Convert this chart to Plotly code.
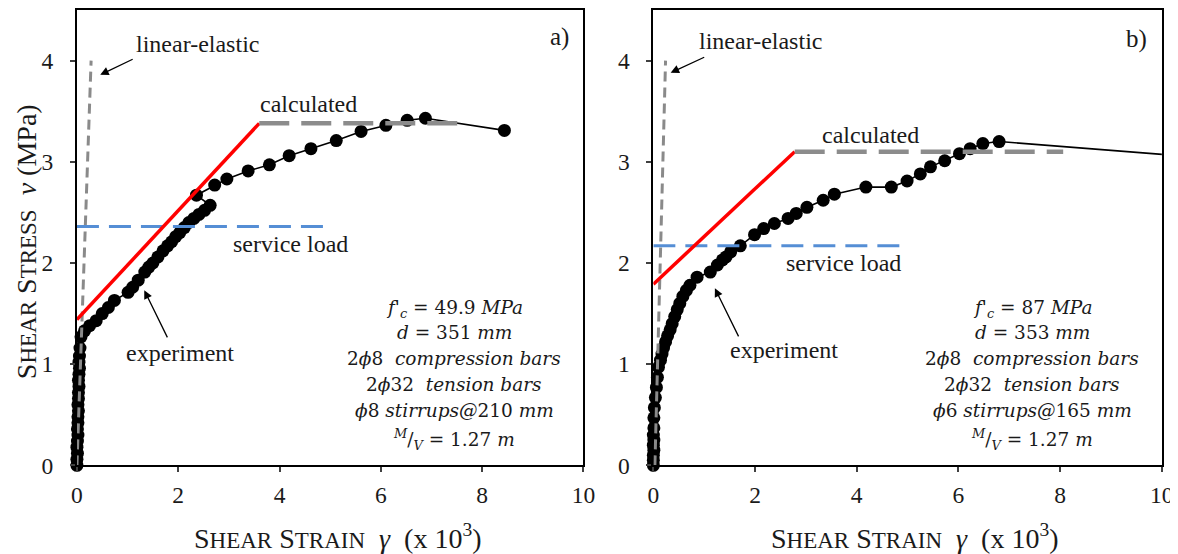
import plotly.graph_objects as go

W, H = 1200, 554          # figure size (a little wider so the last tick label is not cut)
FONT = "Liberation Serif"
MATH = "DejaVu Serif"
# observed placement of the figure in the photographed page
SX, OX = 0.986, 13.0
SY, OY = 0.980, 7.0

# ---------------- data (strain x10^3, stress MPa) ----------------
exp_a_x = [0.00, 0.00, 0.01, 0.00, 0.01, 0.02, 0.01, 0.02, 0.02, 0.03, 0.02, 0.03, 0.03, 0.04,
           0.03, 0.04, 0.05, 0.04, 0.05, 0.06, 0.08, 0.15, 0.25, 0.38, 0.50, 0.62, 0.74, 1.01,
           1.10, 1.21, 1.34, 1.42, 1.50, 1.60, 1.70, 1.79, 1.87, 1.95, 2.03, 2.12, 2.21, 2.31,
           2.41, 2.52, 2.63, 2.36, 2.72, 2.96, 3.38, 3.80, 4.19, 4.62, 5.12, 5.61, 6.10, 6.52,
           6.88, 8.44]
exp_a_y = [0.00, 0.06, 0.12, 0.18, 0.24, 0.30, 0.36, 0.42, 0.48, 0.54, 0.60, 0.66, 0.72, 0.78,
           0.84, 0.90, 0.96, 1.02, 1.08, 1.16, 1.27, 1.33, 1.38, 1.43, 1.50, 1.56, 1.63, 1.71,
           1.76, 1.83, 1.91, 1.96, 2.00, 2.06, 2.12, 2.17, 2.21, 2.26, 2.30, 2.35, 2.40, 2.44,
           2.48, 2.52, 2.57, 2.67, 2.77, 2.83, 2.91, 2.97, 3.06, 3.13, 3.21, 3.30, 3.36, 3.41,
           3.43, 3.31]

exp_b_x = [0.00, 0.00, 0.00, 0.01, 0.00, 0.01, 0.00, 0.01, 0.01, 0.02, 0.04, 0.06, 0.08, 0.10,
           0.14, 0.17, 0.20, 0.24, 0.28, 0.33, 0.37, 0.42, 0.47, 0.52, 0.58, 0.65, 0.72, 0.86,
           1.12, 1.26, 1.36, 1.43, 1.52, 1.71, 1.99, 2.17, 2.38, 2.65, 2.81, 3.02, 3.34, 3.56,
           4.18, 4.68, 4.99, 5.25, 5.45, 5.73, 6.02, 6.23, 6.48, 6.80, 10.60]
exp_b_y = [0.00, 0.05, 0.10, 0.15, 0.20, 0.25, 0.30, 0.37, 0.47, 0.57, 0.67, 0.77, 0.87, 0.97,
           1.04, 1.10, 1.16, 1.22, 1.28, 1.34, 1.40, 1.47, 1.54, 1.60, 1.67, 1.73, 1.78, 1.86,
           1.91, 1.98, 2.03, 2.06, 2.11, 2.17, 2.28, 2.34, 2.39, 2.44, 2.49, 2.55, 2.62, 2.68,
           2.75, 2.75, 2.81, 2.88, 2.95, 3.01, 3.08, 3.13, 3.18, 3.20, 3.05]

lin_a_x, lin_a_y = [0.00, 0.28], [0.00, 4.00]
lin_b_x, lin_b_y = [0.03, 0.24], [0.00, 4.00]
red_a_x, red_a_y = [0.00, 3.60], [1.44, 3.38]
red_b_x, red_b_y = [0.00, 2.78], [1.79, 3.10]
calc_a_x, calc_a_y = [3.60, 7.57], [3.38, 3.38]
calc_b_x, calc_b_y = [2.78, 8.06], [3.10, 3.10]
serv_a_x, serv_a_y = [0.00, 5.00], [2.36, 2.36]
serv_b_x, serv_b_y = [0.00, 5.00], [2.17, 2.17]

X_MAX, Y_MAX = 10.0, 4.5
x_ticks = [0, 2, 4, 6, 8, 10]
y_ticks = [0, 1, 2, 3, 4]

lines_a = ["<i>f'</i><sub><i>c</i></sub> = 49.9 <i>MPa</i>", "<i>d</i> = 351 <i>mm</i>",
           "2<i>ϕ</i>8  <i>compression bars</i>", "2<i>ϕ</i>32  <i>tension bars</i>",
           "<i>ϕ</i>8 <i>stirrups@</i>210 <i>mm</i>",
           "<sup><i>M</i></sup>/<sub><i>V</i></sub> = 1.27 <i>m</i>"]
lines_b = ["<i>f'</i><sub><i>c</i></sub> = 87 <i>MPa</i>", "<i>d</i> = 353 <i>mm</i>",
           "2<i>ϕ</i>8  <i>compression bars</i>", "2<i>ϕ</i>32  <i>tension bars</i>",
           "<i>ϕ</i>6 <i>stirrups@</i>165 <i>mm</i>",
           "<sup><i>M</i></sup>/<sub><i>V</i></sub> = 1.27 <i>m</i>"]
lines_ypix = [309, 333, 359, 385, 411, 440]   # reference pixel rows of the text lines


def fx(xp):  # reference pixel -> paper fraction
    return ((xp - OX) / SX) / W


def fy(yp):
    return 1 - ((yp - OY) / SY) / H


# ---------------- figure ----------------
fig = go.Figure()


def add_panel(xa, ya, ex, ey, lx, ly, rx, ry, cx, cy, sx, sy):
    fig.add_trace(go.Scatter(x=ex, y=ey, mode="lines", xaxis=xa, yaxis=ya,
                             line=dict(color="black", width=1.6), showlegend=False, hoverinfo="skip"))
    mx = [x for x in ex if x <= X_MAX]
    my = [y for x, y in zip(ex, ey) if x <= X_MAX]
    fig.add_trace(go.Scatter(x=mx, y=my, mode="markers", xaxis=xa, yaxis=ya, cliponaxis=False,
                             marker=dict(color="black", size=13), showlegend=False))
    fig.add_trace(go.Scatter(x=lx, y=ly, mode="lines", xaxis=xa, yaxis=ya, cliponaxis=False,
                             line=dict(color="#8a8a8a", width=3, dash="10px,6px"), showlegend=False))
    fig.add_trace(go.Scatter(x=sx, y=sy, mode="lines", xaxis=xa, yaxis=ya,
                             line=dict(color="#558ED5", width=3, dash="22px,10px"), showlegend=False))
    fig.add_trace(go.Scatter(x=rx, y=ry, mode="lines", xaxis=xa, yaxis=ya,
                             line=dict(color="#FF0000", width=3.5), showlegend=False))
    fig.add_trace(go.Scatter(x=cx, y=cy, mode="lines", xaxis=xa, yaxis=ya,
                             line=dict(color="#8c8c8c", width=4.5, dash="30px,12px"), showlegend=False))


add_panel("x", "y", exp_a_x, exp_a_y, lin_a_x, lin_a_y, red_a_x, red_a_y,
          calc_a_x, calc_a_y, serv_a_x, serv_a_y)
add_panel("x2", "y2", exp_b_x, exp_b_y, lin_b_x, lin_b_y, red_b_x, red_b_y,
          calc_b_x, calc_b_y, serv_b_x, serv_b_y)

ydom = [fy(466), min(1.0, fy(9))]
axis_common = dict(showgrid=False, zeroline=False, showline=True, mirror=True,
                   linecolor="black", linewidth=2, ticks="outside", ticklen=5,
                   tickwidth=1.5, tickcolor="#404040",
                   tickfont=dict(family=FONT, size=23.5, color="#1a1a1a"))
fig.update_layout(
    width=W, height=H, margin=dict(l=0, r=0, t=0, b=0),
    paper_bgcolor="white", plot_bgcolor="white", showlegend=False,
    xaxis=dict(domain=[fx(76), fx(583)], range=[0, X_MAX], tickvals=x_ticks,
               anchor="y", ticklabelstandoff=2, **axis_common),
    yaxis=dict(domain=ydom, range=[0, Y_MAX], tickvals=y_ticks, anchor="x",
               ticklabelstandoff=12, **axis_common),
    xaxis2=dict(domain=[fx(653), fx(1162)], range=[0, X_MAX], tickvals=x_ticks,
                anchor="y2", ticklabelstandoff=2, **axis_common),
    yaxis2=dict(domain=ydom, range=[0, Y_MAX], tickvals=y_ticks, anchor="x2",
                ticklabelstandoff=12, **axis_common),
)

annots = []


def label(xr, yr, x, y, text, size=24, family=FONT):
    annots.append(dict(xref=xr, yref=yr, x=x, y=y, text=text, showarrow=False,
                       font=dict(family=family, size=size, color="#1a1a1a"),
                       xanchor="center", yanchor="middle"))


def arrow(xr, yr, x0, y0, x1, y1):
    annots.append(dict(xref=xr, yref=yr, axref=xr, ayref=yr, x=x1, y=y1, ax=x0, ay=y0,
                       text="", showarrow=True, arrowhead=2, arrowsize=1.3,
                       arrowwidth=1.3, arrowcolor="black"))


# panel a
label("x", "y", 2.39, 4.16, "linear-elastic")
arrow("x", "y", 1.13, 4.02, 0.46, 3.86)
label("x", "y", 4.57, 3.57, "calculated")
label("x", "y", 4.22, 2.19, "service load")
label("x", "y", 2.03, 1.11, "experiment")
arrow("x", "y", 1.80, 1.25, 1.33, 1.73)
label("x", "y", 9.52, 4.23, "a)", 25)
# panel b
label("x2", "y2", 2.10, 4.19, "linear-elastic")
arrow("x2", "y2", 1.03, 4.04, 0.34, 3.88)
label("x2", "y2", 4.28, 3.26, "calculated")
label("x2", "y2", 3.74, 2.00, "service load")
label("x2", "y2", 2.57, 1.14, "experiment")
arrow("x2", "y2", 1.69, 1.26, 1.21, 1.75)
label("x2", "y2", 9.50, 4.21, "b)", 25)

# parameter blocks, one annotation per line
for xr, yr, lines in [("x", "y", lines_a), ("x2", "y2", lines_b)]:
    for t, yp in zip(lines, lines_ypix):
        annots.append(dict(xref=xr, yref="paper", x=7.45, y=fy(yp), text=t, showarrow=False,
                           xanchor="center", yanchor="middle",
                           font=dict(family=MATH, size=18.5, color="#1a1a1a")))

sc = "font-size:23px"
ytitle = (f"S<span style='{sc}'>HEAR</span> S<span style='{sc}'>TRESS</span>"
          "  <i>ν</i> (MPa)")
xtitle = (f"S<span style='{sc}'>HEAR</span> S<span style='{sc}'>TRAIN</span>"
          "  <i>γ</i>  (x 10<sup>3</sup>)")
annots.append(dict(xref="paper", yref="paper", x=fx(25), y=fy(241), text=ytitle,
                   textangle=-90, showarrow=False, xanchor="center", yanchor="middle",
                   font=dict(family=FONT, size=28, color="#1a1a1a")))
for cx in (337, 915):
    annots.append(dict(xref="paper", yref="paper", x=fx(cx), y=fy(537), text=xtitle,
                       showarrow=False, xanchor="center", yanchor="middle",
                       font=dict(family=FONT, size=28, color="#1a1a1a")))

fig.update_layout(annotations=annots)
fig.write_html("out.html")
